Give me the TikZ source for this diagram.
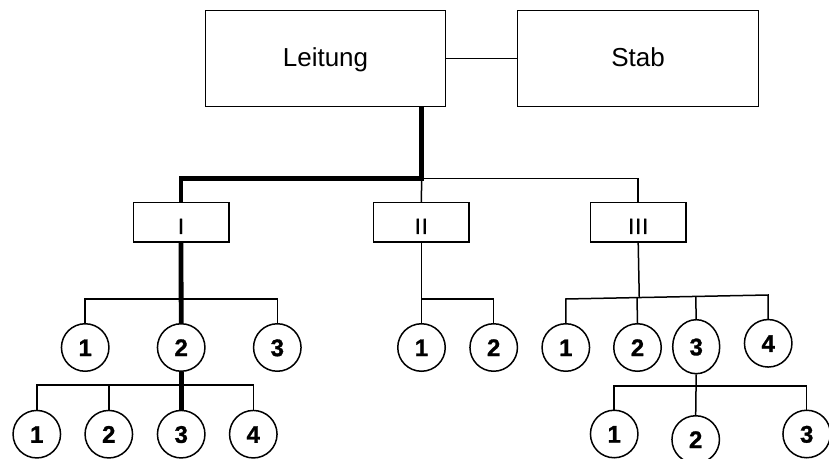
\documentclass[tikz,border=0pt]{standalone}
\usepackage{fontspec}
\setmainfont{Liberation Sans}
\usetikzlibrary{shapes.geometric,calc}
\begin{document}
\begin{tikzpicture}[x=1bp,y=-1bp,
  line width=1.5bp,
  bigbox/.style={draw,rectangle,minimum width=240bp,minimum height=96bp,inner sep=0pt,
    font=\fontsize{26bp}{30bp}\selectfont,text height=22bp,text depth=5bp},
  unitbox/.style={draw,rectangle,minimum width=95.5bp,minimum height=39.5bp,inner sep=0pt,
    font=\fontsize{22bp}{24bp}\selectfont\addfontfeature{LetterSpace=4,FakeBold=1},
    text height=23bp,text depth=0bp},
  member/.style={draw,circle,minimum size=47.5bp,inner sep=0pt,
    font=\fontsize{24bp}{26bp}\selectfont\bfseries\addfontfeature{FakeBold=1.2},
    text height=17.2bp,text depth=0bp},
  wide member/.style={member,ellipse,minimum width=47bp,minimum height=54bp},
  main path/.style={line width=4.8bp}]
\useasboundingbox (0,0) rectangle (829,459);

% top level
\node[bigbox] (L) at (325.5,58.5) {Leitung};
\node[bigbox,minimum width=241bp] (S) at (638,58.5) {Stab};

% units
\node[unitbox] (I)   at (181,222.5)   {I};
\node[unitbox] (II)  at (421.3,222.5) {II};
\node[unitbox] (III) at (638.2,222.5) {III};

% members of unit I
\node[member] (a1) at (85.2,347.5)  {1};
\node[member] (a2) at (181.2,347.5) {2};
\node[member] (a3) at (277.3,347.5) {3};
\node[member] (b1) at (36.8,434.2)  {1};
\node[member] (b2) at (108.8,434.2) {2};
\node[member] (b3) at (181.2,434.2) {3};
\node[member] (b4) at (253.3,434.2) {4};

% members of unit II
\node[member] (d1) at (421.5,347.5) {1};
\node[member] (d2) at (493.7,347.5) {2};

% members of unit III
\node[member] (e1) at (565.8,347.5) {1};
\node[member] (e2) at (637.5,347.5) {2};
\node[wide member] (e3) at (696.2,346.7) {3};
\node[member] (e4) at (768.2,343.3) {4};
\node[member] (f1) at (614.2,434)   {1};
\node[member] (f2) at (695.7,439.5) {2};
\node[member] (f3) at (806.7,434)   {3};

% bus levels
\coordinate (j0) at (421.7,178.7);
\coordinate (rA) at (0,299);
\coordinate (rB) at (0,385);
\coordinate (rC) at (0,299);
\coordinate (rF) at (0,386);
\coordinate (eL) at (565.8,299);
\coordinate (eR) at (768.2,295);

% staff link
\draw (L.east) -- (S.west);

% thin connectors
\draw (j0) -- (II.north);
\draw (j0) -- (j0 -| III.north) -- (III.north);

\draw (a1.north) -- (a1.north |- rA) -- (a3.north |- rA) -- (a3.north);
\draw (b1.north) -- (b1.north |- rB) -- (b4.north |- rB) -- (b4.north);
\draw (b2.north) -- (b2.north |- rB);

\draw (II.south) -- (II.south |- rC) -- (d2.north |- rC) -- (d2.north);
\draw (d1.north) -- (d1.north |- rC);

\draw (e1.north) -- (eL) -- (eR) -- (e4.north);
\draw (III.south) -- ($(eL)!(III.south)!(eR)$);
\draw (e2.north) -- ($(eL)!(e2.north)!(eR)$);
\draw (e3.north) -- ($(eL)!(e3.north)!(eR)$);

\draw (f1.north) -- (f1.north |- rF) -- (f3.north |- rF) -- (f3.north);
\draw (e3.south) -- (f2.north);

% highlighted line of command
\draw[main path] (j0 |- L.south) -- (j0) -- (j0 -| I.north) -- (I.north);
\draw[main path] (I.south) -- (a2.north);
\draw[main path] (a2.south) -- (b3.north);
\end{tikzpicture}
\end{document}
